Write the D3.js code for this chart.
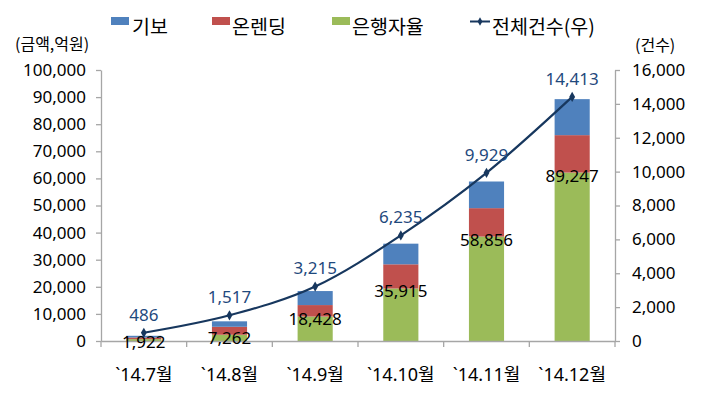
<!DOCTYPE html>
<html><head><meta charset="utf-8">
<script src="https://cdn.jsdelivr.net/npm/d3@7/dist/d3.min.js"></script>
<style>
html,body{margin:0;padding:0;background:#fff;}
svg{display:block;font-family:"Noto Sans CJK KR","Noto Sans",sans-serif;}
</style></head>
<body><svg id="c" width="702" height="396"></svg>
<script>
const categories = ["`14.7월","`14.8월","`14.9월","`14.10월","`14.11월","`14.12월"];
const seriesNames = ["기보","온렌딩","은행자율"];
const giboValues = [622, 2012, 5168, 7615, 9836, 13287];
const onlendingValues = [600, 2950, 4230, 8930, 10490, 13810];
const bankValues = [700, 2300, 9030, 19370, 38530, 62150];
const totalAmount = [1922, 7262, 18428, 35915, 58856, 89247];
const lineName = "전체건수(우)";
const countValues = [486, 1517, 3215, 6235, 9929, 14413];
const leftTicks = [0,10000,20000,30000,40000,50000,60000,70000,80000,90000,100000];
const rightTicks = [0,2000,4000,6000,8000,10000,12000,14000,16000];
const leftUnit = "(금액,억원)";
const rightUnit = "(건수)";

const colors = {"기보":"#4F81BD","온렌딩":"#C0504D","은행자율":"#9BBB59"};
const lineColor = "#17375E";
const labelBlue = "#1F497D";
const axisColor = "#A6A6A6";
const latinFont = '"Noto Sans","Noto Sans CJK KR",sans-serif';

const svg = d3.select("#c");
const x = d3.scaleBand().domain(categories).range([101,615]).padding(0);
const yL = d3.scaleLinear().domain([0,100000]).range([341,70]);
const yR = d3.scaleLinear().domain([0,16000]).range([341,70]);
const fmt = d3.format(",");

const rows = categories.map((c,i)=>({cat:c,"은행자율":bankValues[i],"온렌딩":onlendingValues[i],"기보":giboValues[i]}));
const stacked = d3.stack().keys(["은행자율","온렌딩","기보"])(rows);
const bw = x.bandwidth()*0.41;

svg.append("g").selectAll("g").data(stacked).join("g")
  .attr("fill", d=>colors[d.key])
  .selectAll("rect").data(d=>d).join("rect")
  .attr("x", d=>x(d.data.cat)+(x.bandwidth()-bw)/2)
  .attr("width", bw)
  .attr("y", d=>yL(d[1]))
  .attr("height", d=>yL(d[0])-yL(d[1]));

const axL = svg.append("g").attr("transform","translate(101,0)")
  .call(d3.axisLeft(yL).tickValues(leftTicks).tickFormat(fmt).tickSize(5).tickSizeOuter(0).tickPadding(10));
const axR = svg.append("g").attr("transform","translate(615,0)")
  .call(d3.axisRight(yR).tickValues(rightTicks).tickFormat(fmt).tickSize(5).tickSizeOuter(0).tickPadding(12));
const axB = svg.append("g").attr("transform","translate(0,341)")
  .call(d3.axisBottom(x).tickSize(0).tickPadding(27));
[axL,axR,axB].forEach(a=>{
  a.selectAll("path,line").attr("stroke",axisColor).attr("stroke-width",1.3);
  a.selectAll("text").attr("fill","#000").style("font-family",latinFont);
});
axL.selectAll("text").attr("font-size",17);
axR.selectAll("text").attr("font-size",17);
axB.selectAll("text").attr("font-size",18);
const bounds = categories.map(c=>x(c)).concat([x(categories[categories.length-1])+x.bandwidth()]);
svg.append("g").selectAll("line").data(bounds).join("line")
  .attr("x1",d=>d).attr("x2",d=>d).attr("y1",341).attr("y2",347)
  .attr("stroke",axisColor).attr("stroke-width",1.3);

svg.append("g").selectAll("text").data(categories).join("text")
  .attr("x", c=>x(c)+x.bandwidth()/2)
  .attr("y", (c,i)=>yL(bankValues[i])+3)
  .attr("dy","0.35em")
  .attr("text-anchor","middle").attr("font-size",17).attr("fill","#000")
  .style("font-family",latinFont)
  .text((c,i)=>fmt(totalAmount[i]));

const pts = categories.map((c,i)=>[x(c)+x.bandwidth()/2, yR(countValues[i])]);
svg.append("path").attr("d", d3.line().curve(d3.curveCatmullRom.alpha(0))(pts))
  .attr("fill","none").attr("stroke",lineColor).attr("stroke-width",2.2);
const diamond = d3.symbol().type(d3.symbolDiamond).size(30);
svg.append("g").selectAll("path").data(pts).join("path")
  .attr("transform",d=>`translate(${d[0]},${d[1]})`)
  .attr("d",diamond).attr("fill",lineColor);
svg.append("g").selectAll("text").data(pts).join("text")
  .attr("x",d=>d[0]).attr("y",d=>d[1]-18).attr("dy","0.35em")
  .attr("text-anchor","middle").attr("font-size",17).attr("fill",labelBlue)
  .style("font-family",latinFont)
  .text((d,i)=>fmt(countValues[i]));

svg.append("text").attr("x",15).attr("y",44).attr("dy","0.35em").attr("font-size",16).text(leftUnit);
svg.append("text").attr("x",635).attr("y",45).attr("dy","0.35em").attr("font-size",16).text(rightUnit);

const legendItems = [
  {name:seriesNames[0], x:111, tx:132, type:"rect"},
  {name:seriesNames[1], x:212, tx:232, type:"rect"},
  {name:seriesNames[2], x:332, tx:352, type:"rect"},
  {name:lineName, x:470, tx:492, type:"line"}
];
const lg = svg.append("g");
legendItems.forEach(it=>{
  if(it.type==="rect"){
    lg.append("rect").attr("x",it.x).attr("y",17).attr("width",18).attr("height",8).attr("fill",colors[it.name]);
  } else {
    lg.append("line").attr("x1",it.x).attr("x2",it.x+20).attr("y1",21.5).attr("y2",21.5).attr("stroke",lineColor).attr("stroke-width",2);
    lg.append("path").attr("transform",`translate(${it.x+10},21.5)`).attr("d",d3.symbol().type(d3.symbolDiamond).size(20)).attr("fill",lineColor);
  }
  lg.append("text").attr("x",it.tx).attr("y",27).attr("dy","0.35em").attr("font-size",19.5).text(it.name);
});
</script></body></html>
